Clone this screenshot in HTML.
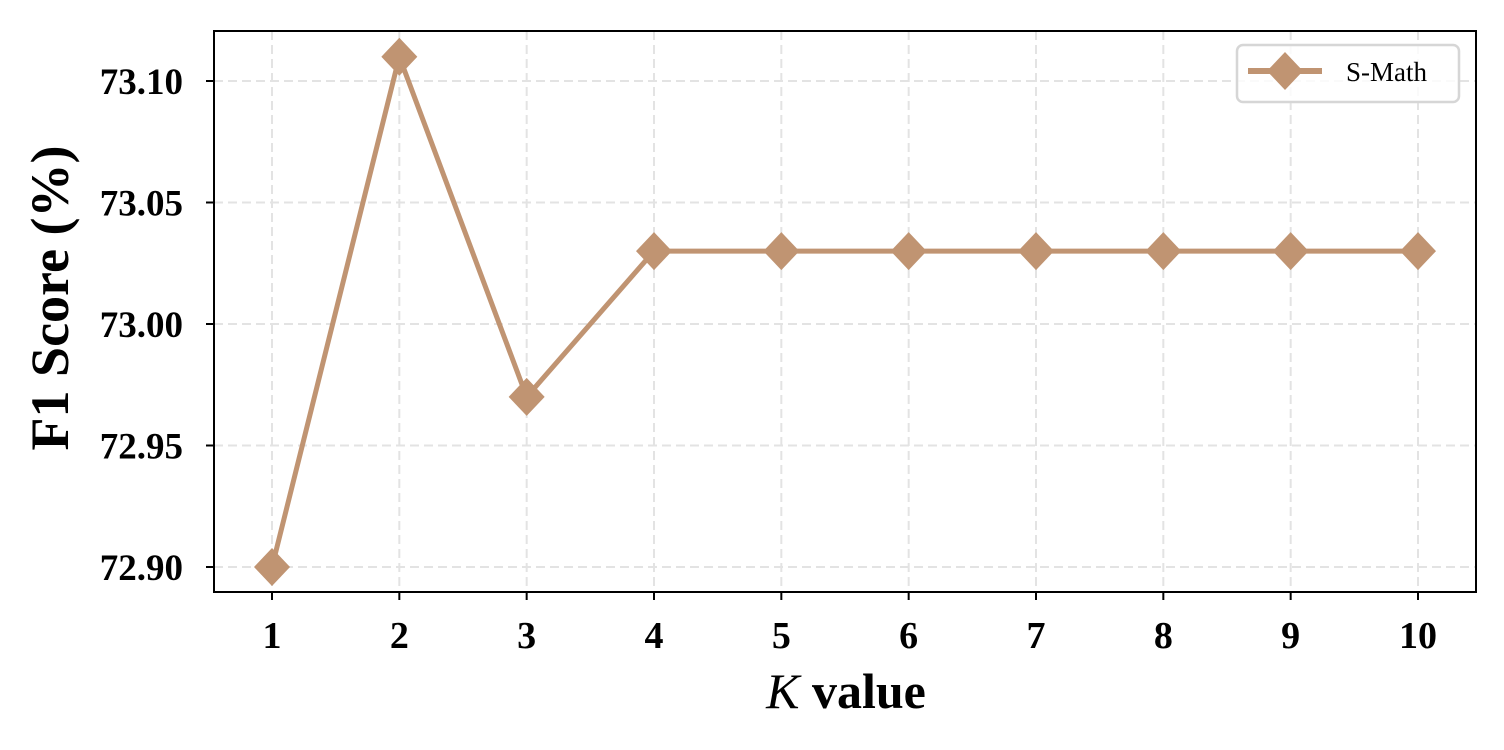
<!DOCTYPE html>
<html><head><meta charset="utf-8"><style>
body{margin:0;background:#fff;}
svg{display:block;font-family:"Liberation Serif",serif;}
</style></head><body>
<svg id="chart" width="1504" height="750"></svg>
<script>
const categories=[1,2,3,4,5,6,7,8,9,10];
const values=[72.90,73.11,72.97,73.03,73.03,73.03,73.03,73.03,73.03,73.03];
const yTicks=[72.90,72.95,73.00,73.05,73.10];
const yTickLabels=["72.90","72.95","73.00","73.05","73.10"];
const seriesName="S-Math";
const NS="http://www.w3.org/2000/svg";
const svg=document.getElementById('chart');
const L=214,R=1476,T=31,B=592;
const xs=k=>272+(k-1)*(1418-272)/9;
const ys=v=>567-(v-72.90)*(567-81)/0.20;
function mk(tag,attrs,parent){const e=document.createElementNS(NS,tag);for(const k in attrs)e.setAttribute(k,attrs[k]);(parent||svg).appendChild(e);return e;}
const grid=mk('g',{});


categories.forEach(c=>{const l=mk('line',{x1:xs(c),x2:xs(c),y1:T,y2:B,stroke:'#e3e3e3','stroke-width':2,'stroke-dasharray':'9,5'},grid);

});
yTicks.forEach(v=>{const l=mk('line',{x1:L,x2:R,y1:ys(v),y2:ys(v),stroke:'#e3e3e3','stroke-width':2,'stroke-dasharray':'9,5'},grid);

});
categories.forEach(c=>{mk('line',{x1:xs(c),x2:xs(c),y1:B,y2:B+8,stroke:'#000','stroke-width':2});
const t=mk('text',{x:xs(c),y:B+56,'text-anchor':'middle','font-size':38,'font-weight':'bold'});t.textContent=c;

});
yTicks.forEach((v,i)=>{mk('line',{x1:L-8,x2:L,y1:ys(v),y2:ys(v),stroke:'#000','stroke-width':2});
const t=mk('text',{x:L-31,y:ys(v)+13,'text-anchor':'end','font-size':37,'font-weight':'bold'});t.textContent=yTickLabels[i];

});
const pts=categories.map((c,i)=>xs(c)+','+ys(values[i])).join(' ');
const pl=mk('polyline',{points:pts,fill:'none',stroke:'#c09472','stroke-width':5});


categories.forEach((c,i)=>{const x=xs(c),y=ys(values[i]);
const d=mk('polygon',{points:`${x},${y-19} ${x+18},${y} ${x},${y+19} ${x-18},${y}`,fill:'#c09472'});

});
const fr=mk('rect',{x:L,y:T,width:R-L,height:B-T,fill:'none',stroke:'#000','stroke-width':2});


const xt=mk('text',{x:846,y:708,'text-anchor':'middle','font-size':50,'font-weight':'bold'});
xt.innerHTML='<tspan font-style="italic" font-weight="normal">K</tspan> value';


const yt=mk('text',{x:0,y:0,'text-anchor':'middle','font-size':54,'font-weight':'bold',transform:'translate(68,298) rotate(-90)'});
yt.textContent='F1 Score (%)';


const lg=mk('g',{});


mk('rect',{x:1237,y:45,width:222,height:57,rx:6,fill:'#fff','fill-opacity':0.8,stroke:'#d6d6d6','stroke-width':2.5},lg);
mk('line',{x1:1248,x2:1322,y1:71,y2:71,stroke:'#c09472','stroke-width':6},lg);
mk('polygon',{points:'1285,52 1303,71 1285,90 1267,71',fill:'#c09472'},lg);
const lt=mk('text',{x:1346,y:81,'font-size':27},lg);lt.textContent=seriesName;


</script>
</body></html>
